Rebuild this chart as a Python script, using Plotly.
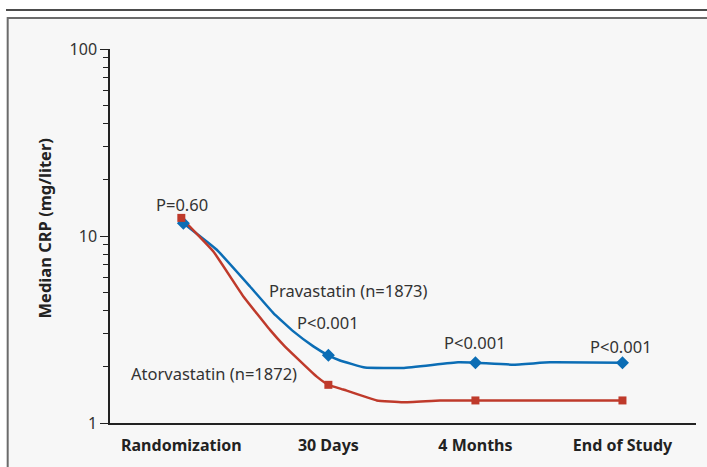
import plotly.graph_objects as go

# Visit labels along the x axis (positions 0..3)
visits = ["Randomization", "30 Days", "4 Months", "End of Study"]
visit_pos = [0, 1, 2, 3]

# Median CRP (mg/liter) at each visit
prava_crp = [11.7, 2.3, 2.1, 2.1]
atorva_crp = [12.5, 1.6, 1.32, 1.32]

# Course of the drawn curves between visits (position, median CRP)
prava_curve_x = [0.014, 0.241, 0.467, 0.626, 0.762, 0.898, 1.0, 1.079, 1.249,
                 1.507, 1.882, 2.0, 2.255, 2.507, 3.0]
prava_curve_y = [11.7, 8.44, 5.37, 3.87, 3.09, 2.57, 2.3, 2.16, 1.98,
                 1.97, 2.11, 2.1, 2.05, 2.11, 2.1]
atorva_curve_x = [0.0, 0.218, 0.422, 0.603, 0.694, 0.785, 0.921, 1.0, 1.102,
                  1.329, 1.507, 1.759, 2.0, 3.0]
atorva_curve_y = [12.5, 8.26, 4.75, 3.15, 2.62, 2.23, 1.77, 1.6, 1.51,
                  1.32, 1.29, 1.32, 1.32, 1.32]

# P values shown above the points
p_labels = ["P=0.60", "P<0.001", "P<0.001", "P<0.001"]

BLUE = "#0b6db5"
RED = "#bf3a2b"
TEXT = "#333333"
FONT = "Noto Sans"

fig = go.Figure()

fig.add_trace(go.Scatter(x=prava_curve_x, y=prava_curve_y, mode="lines",
                         line=dict(color=BLUE, width=2.5, shape="spline", smoothing=0.3),
                         hoverinfo="skip", showlegend=False))
fig.add_trace(go.Scatter(x=atorva_curve_x, y=atorva_curve_y, mode="lines",
                         line=dict(color=RED, width=2.5, shape="spline", smoothing=0.3),
                         hoverinfo="skip", showlegend=False))
fig.add_trace(go.Scatter(x=[visit_pos[0] + 0.014] + visit_pos[1:], y=prava_crp, mode="markers",
                         marker=dict(symbol="diamond", size=10, color=BLUE),
                         name="Pravastatin", showlegend=False))
fig.add_trace(go.Scatter(x=visit_pos, y=atorva_crp, mode="markers",
                         marker=dict(symbol="square", size=8, color=RED),
                         name="Atorvastatin", showlegend=False))

annotations = []
# P-value labels (annotation y on a log axis is given in log10 units)
p_pos = [(0.005, 1.167), (0.9975, 0.538), (1.997, 0.428), (2.993, 0.409)]
for txt, (ax_, ay_) in zip(p_labels, p_pos):
    annotations.append(dict(x=ax_, y=ay_, xref="x", yref="y", text=txt, showarrow=False,
                            font=dict(family=FONT, size=16.5, color=TEXT)))
annotations.append(dict(x=1.14, y=0.707, xref="x", yref="y", text="Pravastatin (n=1873)",
                        showarrow=False, font=dict(family=FONT, size=16.5, color=TEXT)))
annotations.append(dict(x=0.22, y=0.267, xref="x", yref="y", text="Atorvastatin (n=1872)",
                        showarrow=False, font=dict(family=FONT, size=16.5, color=TEXT)))
# Y axis title
annotations.append(dict(x=-0.111, y=0.52, xref="paper", yref="paper",
                        xanchor="center", yanchor="middle",
                        text="Median CRP (mg/liter)", textangle=-90, showarrow=False,
                        font=dict(family=FONT, size=16.5, color="#222222", weight="bold")))

shapes = [
    # framed panel
    dict(type="rect", xref="paper", yref="paper", x0=-0.1746, x1=1.3, y0=-0.4, y1=1.0829,
         line=dict(color="#6b6b6b", width=2), fillcolor="#f7f7f7", layer="below"),
    # rule above the panel
    dict(type="line", xref="paper", yref="paper", x0=-0.1775, x1=1.3, y0=1.1043, y1=1.1043,
         line=dict(color="#111111", width=1.5)),
]

minor_vals = [v * m for m in (1, 10) for v in range(2, 10)]

fig.update_layout(
    width=707, height=467,
    margin=dict(l=110, r=11, t=49, b=44),
    paper_bgcolor="white", plot_bgcolor="#f7f7f7",
    font=dict(family=FONT, color=TEXT),
    annotations=annotations, shapes=shapes,
    xaxis=dict(range=[-0.485, 3.5], tickvals=visit_pos, ticktext=visits, automargin=False,
               showgrid=False, zeroline=False, showline=True, linecolor="#222222",
               linewidth=1.5, ticks="", ticklabelstandoff=7,
               tickfont=dict(family=FONT, size=16, color="#222222", weight="bold")),
    yaxis=dict(type="log", range=[0, 2], tickvals=[1, 10, 100], ticktext=["1", "10", "100"],
               automargin=False,
               showgrid=False, zeroline=False, showline=True, linecolor="#222222",
               linewidth=1.5, ticks="outside", ticklen=8, tickwidth=1.2, tickcolor="#222222",
               tickfont=dict(family=FONT, size=16, color=TEXT),
               minor=dict(tickvals=minor_vals, ticks="outside", ticklen=5,
                          tickwidth=1.2, tickcolor="#222222", showgrid=False)),
)

fig.write_html("out.html")
